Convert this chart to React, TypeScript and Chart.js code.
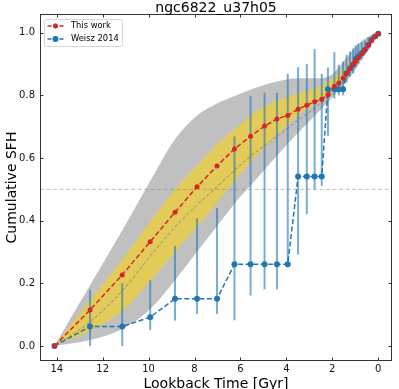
import React, { useEffect, useRef } from "react";
import { Chart, registerables } from "chart.js";

Chart.register(...registerables);

// ---------- data ----------
const TITLE = "ngc6822_u37h05";
const X_LABEL = "Lookback Time [Gyr]";
const Y_LABEL = "Cumulative SFH";
const SERIES_NAMES = ["This work", "Weisz 2014"];

const xTicks = [0, 2, 4, 6, 8, 10, 12, 14];
const yTicks = [0, 0.2, 0.4, 0.6, 0.8, 1.0];

// lookback times of the SFH bins (Gyr)
const tGrid = [14.1, 12.55, 11.15, 9.93, 8.85, 7.89, 7.02, 6.26, 5.56, 4.95, 4.41, 3.94, 3.49, 3.11, 2.77, 2.46, 2.19, 1.91, 1.72, 1.53, 1.38, 1.23, 1.09, 0.98, 0.87, 0.72, 0.58, 0.43, 0.29, 0.14, 0.0];
const thisWork = [0, 0.115, 0.227, 0.333, 0.427, 0.508, 0.575, 0.629, 0.670, 0.702, 0.725, 0.736, 0.756, 0.769, 0.780, 0.788, 0.802, 0.829, 0.839, 0.855, 0.87, 0.885, 0.9, 0.91, 0.92, 0.933, 0.945, 0.96, 0.975, 0.988, 0.997];
const weisz = [0, 0.062, 0.062, 0.092, 0.151, 0.151, 0.151, 0.261, 0.261, 0.261, 0.261, 0.261, 0.541, 0.541, 0.541, 0.541, 0.82, 0.82, 0.82, 0.82, 0.871, 0.887, 0.898, 0.916, 0.924, 0.935, 0.946, 0.962, 0.978, 0.988, 0.997];
const weiszLo = [0, 0, 0, 0.051, 0.081, 0.102, 0.102, 0.082, 0.161, 0.181, 0.181, 0.261, 0.292, 0.421, 0.5, 0.511, 0.671, 0.79, 0.80, 0.80, 0.84, 0.86, 0.87, 0.89, 0.90, 0.915, 0.93, 0.945, 0.965, 0.98, 0.99];
const weiszHi = [0, 0.179, 0.2, 0.21, 0.32, 0.408, 0.44, 0.669, 0.799, 0.809, 0.809, 0.869, 0.89, 0.9, 0.948, 0.869, 0.889, 0.938, 0.898, 0.908, 0.93, 0.94, 0.95, 0.96, 0.965, 0.97, 0.975, 0.985, 0.99, 0.995, 1.0];

// uncertainty envelopes
const bandT = [14.1, 12.5, 11.1, 9.9, 8.85, 7.9, 7.0, 6.2, 5.4, 4.5, 3.5, 2.5, 2.0, 1.5, 1.0, 0.5, 0.0];
const outerUpper = [0, 0.2, 0.375, 0.53, 0.66, 0.735, 0.775, 0.8, 0.823, 0.843, 0.855, 0.855, 0.868, 0.91, 0.955, 0.985, 1.0];
const outerLower = [0, 0.02, 0.056, 0.12, 0.21, 0.3, 0.385, 0.46, 0.525, 0.6, 0.68, 0.755, 0.793, 0.835, 0.882, 0.94, 1.0];
const innerUpper = [0, 0.15, 0.28, 0.4, 0.5, 0.575, 0.645, 0.695, 0.745, 0.78, 0.805, 0.83, 0.855, 0.885, 0.925, 0.96, 1.0];
const innerLower = [0, 0.05, 0.115, 0.21, 0.3, 0.38, 0.46, 0.53, 0.6, 0.665, 0.735, 0.785, 0.81, 0.848, 0.895, 0.945, 1.0];
const medianCurve = [0, 0.08, 0.18, 0.29, 0.38, 0.45, 0.51, 0.565, 0.615, 0.665, 0.72, 0.775, 0.805, 0.85, 0.9, 0.95, 1.0];
const halfLevel = 0.5;

const X_MIN = -0.6;
const X_MAX = 14.73;
const Y_MIN = -0.048;
const Y_MAX = 1.06;

// ---------- styles ----------
const FONT = "'DejaVu Sans', sans-serif";
const RED = "#d62728";
const BLUE = "#1f77b4";
const BAR_BLUE = "rgba(31,119,180,0.6)";
const GRAY_BAND = "#c0c0c0";
const YELLOW_BAND = "#e3cb5a";

const pts = (xs: number[], ys: number[]) => xs.map((x, i) => ({ x, y: ys[i] }));

const decorPlugin = {
  id: "decor",
  beforeDatasetDraw(chart: any, args: any) {
    if (args.index !== 6) return;
    const { ctx, scales, chartArea } = chart;
    const xs = scales.x, ys = scales.y;
    ctx.save();
    ctx.beginPath();
    ctx.rect(chartArea.left, chartArea.top, chartArea.right - chartArea.left, chartArea.bottom - chartArea.top);
    ctx.clip();
    ctx.strokeStyle = BAR_BLUE;
    ctx.lineWidth = 2;
    for (let i = 0; i < tGrid.length; i++) {
      if (weiszHi[i] - weiszLo[i] <= 0) continue;
      const px = xs.getPixelForValue(tGrid[i]);
      ctx.beginPath();
      ctx.moveTo(px, ys.getPixelForValue(weiszLo[i]));
      ctx.lineTo(px, ys.getPixelForValue(weiszHi[i]));
      ctx.stroke();
    }
    ctx.restore();
  },
  afterDraw(chart: any) {
    const { ctx, chartArea, scales } = chart;
    const { left, right, top, bottom } = chartArea;
    ctx.save();
    // spines
    ctx.strokeStyle = "#333";
    ctx.lineWidth = 1;
    ctx.strokeRect(left + 0.5, top + 0.5, right - left - 1, bottom - top - 1);
    // inward ticks
    const TL = 3.5;
    ctx.beginPath();
    for (const v of xTicks) {
      const px = Math.round(scales.x.getPixelForValue(v)) + 0.5;
      ctx.moveTo(px, bottom);
      ctx.lineTo(px, bottom - TL);
      ctx.moveTo(px, top);
      ctx.lineTo(px, top + TL);
    }
    for (const v of yTicks) {
      const py = Math.round(scales.y.getPixelForValue(v)) + 0.5;
      ctx.moveTo(left, py);
      ctx.lineTo(left + TL, py);
      ctx.moveTo(right, py);
      ctx.lineTo(right - TL, py);
    }
    ctx.stroke();

    // title & axis labels
    ctx.fillStyle = "#000";
    ctx.textBaseline = "alphabetic";
    ctx.textAlign = "center";
    ctx.font = `14px ${FONT}`;
    const cx = (left + right) / 2;
    ctx.fillText(TITLE, cx, 11.5);
    ctx.fillText(X_LABEL, cx, 387.5);
    ctx.save();
    ctx.translate(16, (top + bottom) / 2);
    ctx.rotate(-Math.PI / 2);
    ctx.fillText(Y_LABEL, 0, 0);
    ctx.restore();

    // legend
    const bx = 44.5, by = 19.5, bw = 78, bh = 27;
    ctx.beginPath();
    if (ctx.roundRect) ctx.roundRect(bx, by, bw, bh, 2);
    else ctx.rect(bx, by, bw, bh);
    ctx.fillStyle = "rgba(255,255,255,0.8)";
    ctx.fill();
    ctx.strokeStyle = "rgba(204,204,204,0.8)";
    ctx.lineWidth = 1;
    ctx.stroke();
    const rows = [
      { y: 26, color: RED, r: 2.5, name: SERIES_NAMES[0] },
      { y: 39, color: BLUE, r: 3, name: SERIES_NAMES[1] },
    ];
    for (const row of rows) {
      ctx.strokeStyle = row.color;
      ctx.lineWidth = 1.5;
      ctx.setLineDash([4, 2]);
      ctx.beginPath();
      ctx.moveTo(47.5, row.y);
      ctx.lineTo(63.5, row.y);
      ctx.stroke();
      ctx.setLineDash([]);
      ctx.lineWidth = 1.5;
      ctx.beginPath();
      ctx.moveTo(55.5, row.y - 2.5);
      ctx.lineTo(55.5, row.y + 2.5);
      ctx.stroke();
      ctx.fillStyle = row.color;
      ctx.beginPath();
      ctx.arc(55.5, row.y, row.r, 0, Math.PI * 2);
      ctx.fill();
      ctx.fillStyle = "#000";
      ctx.font = `8.33px ${FONT}`;
      ctx.textAlign = "left";
      ctx.textBaseline = "middle";
      ctx.fillText(row.name, 71, row.y);
    }
    ctx.restore();
  },
};

export default function App() {
  const canvasRef = useRef<HTMLCanvasElement | null>(null);

  useEffect(() => {
    const canvas = canvasRef.current;
    if (!canvas) return;
    const bandCommon = {
      showLine: true,
      pointRadius: 0,
      borderWidth: 0,
      cubicInterpolationMode: "monotone" as const,
    };
    const chart = new Chart(canvas, {
      type: "scatter",
      data: {
        datasets: [
          { ...bandCommon, data: pts(bandT, outerLower), borderColor: "transparent", fill: false, order: 20 },
          { ...bandCommon, data: pts(bandT, outerUpper), borderColor: "transparent", backgroundColor: GRAY_BAND, fill: 0, order: 19 },
          { ...bandCommon, data: pts(bandT, innerLower), borderColor: "transparent", fill: false, order: 18 },
          { ...bandCommon, data: pts(bandT, innerUpper), borderColor: "transparent", backgroundColor: YELLOW_BAND, fill: 2, order: 17 },
          {
            showLine: true, pointRadius: 0, borderWidth: 1, borderColor: "rgba(128,128,128,0.5)",
            borderDash: [4, 2.5], fill: false, order: 16,
            data: [{ x: X_MAX, y: halfLevel }, { x: X_MIN, y: halfLevel }],
          },
          {
            ...bandCommon, borderWidth: 1.2, borderColor: "rgba(128,128,128,0.55)", borderDash: [3.5, 2],
            fill: false, order: 15, data: pts(bandT, medianCurve),
          },
          {
            showLine: true, data: pts(tGrid, weisz), borderColor: BLUE, borderWidth: 1.5, borderDash: [5, 2.5],
            pointRadius: 3, pointBackgroundColor: BLUE, pointBorderWidth: 0, fill: false, order: 2,
          },
          {
            showLine: true, data: pts(tGrid, thisWork), borderColor: RED, borderWidth: 1.5, borderDash: [5, 2.5],
            pointRadius: 2.5, pointBackgroundColor: RED, pointBorderWidth: 0, fill: false, order: 1,
          },
        ],
      },
      options: {
        responsive: false,
        devicePixelRatio: 1,
        animation: false,
        layout: { padding: { top: 14, right: 7, left: 0, bottom: 0 } },
        plugins: {
          legend: { display: false },
          title: { display: false },
          tooltip: { enabled: false },
        },
        scales: {
          x: {
            type: "linear",
            reverse: true,
            min: X_MIN,
            max: X_MAX,
            grid: { display: false, drawTicks: false },
            border: { display: false },
            ticks: {
              font: { family: FONT, size: 10 },
              color: "#111",
              padding: 2,
              maxRotation: 0,
              autoSkip: false,
              callback: (v: any) => String(Math.round(Number(v))),
            },
            afterBuildTicks: (s: any) => { s.ticks = xTicks.map((v) => ({ value: v })); },
            afterFit: (s: any) => { s.height = 28; },
          },
          y: {
            type: "linear",
            min: Y_MIN,
            max: Y_MAX,
            grid: { display: false, drawTicks: false },
            border: { display: false },
            ticks: {
              font: { family: FONT, size: 10 },
              color: "#111",
              padding: 5,
              autoSkip: false,
              callback: (v: any) => Number(v).toFixed(1),
            },
            afterBuildTicks: (s: any) => { s.ticks = yTicks.map((v) => ({ value: v })); },
            afterFit: (s: any) => { s.width = 40; },
          },
        },
      },
      plugins: [decorPlugin],
    });
    return () => chart.destroy();
  }, []);

  return (
    <div style={{ position: "fixed", left: 0, top: 0, width: 399, height: 389, background: "#fff" }}>
      <canvas ref={canvasRef} width={399} height={389} style={{ display: "block", width: 399, height: 389 }} />
    </div>
  );
}
